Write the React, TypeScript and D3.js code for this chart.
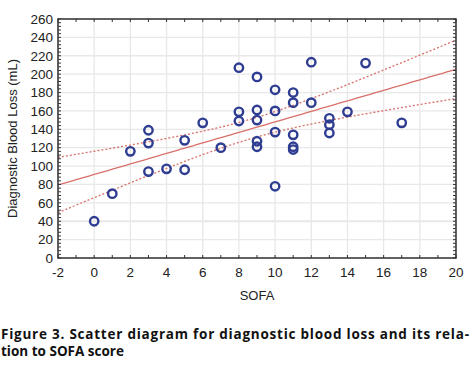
import React from "react";
import * as d3 from "d3";

const sofa = [0, 1, 2, 3, 3, 3, 4, 5, 5, 6, 7, 8, 8, 8, 9, 9, 9, 9, 9, 10, 10, 10, 10, 11, 11, 11, 11, 11, 12, 12, 13, 13, 13, 14, 15, 17];
const bloodLoss = [40, 70, 116, 94, 125, 139, 97, 96, 128, 147, 120, 207, 159, 149, 197, 161, 150, 127, 121, 183, 160, 137, 78, 180, 169, 134, 121, 118, 213, 169, 152, 145, 136, 159, 212, 147];
const xTicks = [-2, 0, 2, 4, 6, 8, 10, 12, 14, 16, 18, 20];
const yTicks = [0, 20, 40, 60, 80, 100, 120, 140, 160, 180, 200, 220, 240, 260];
const xLabel = "SOFA";
const yLabel = "Diagnostic Blood Loss (mL)";
const captionLines = ["Figure 3. Scatter diagram for diagnostic blood loss and its rela-", "tion to SOFA score"];

export default function App() {
  const W = 472, H = 381;
  const L = 58, R = 456, T = 19, B = 258;
  const x = d3.scaleLinear().domain([-2, 20]).range([L, R]);
  const y = d3.scaleLinear().domain([0, 260]).range([B, T]);

  // least squares fit and 95% confidence band
  const n = sofa.length;
  const mx = d3.mean(sofa)!;
  const my = d3.mean(bloodLoss)!;
  let sxx = 0, sxy = 0;
  for (let i = 0; i < n; i++) {
    sxx += (sofa[i] - mx) ** 2;
    sxy += (sofa[i] - mx) * (bloodLoss[i] - my);
  }
  const slope = sxy / sxx;
  const icpt = my - slope * mx;
  let ssr = 0;
  for (let i = 0; i < n; i++) ssr += (bloodLoss[i] - (icpt + slope * sofa[i])) ** 2;
  const s = Math.sqrt(ssr / (n - 2));
  const t = 2.032;
  const xs = d3.range(-2, 20.001, 0.25);
  const fit = (v: number) => icpt + slope * v;
  const hw = (v: number) => t * s * Math.sqrt(1 / n + (v - mx) ** 2 / sxx);
  const line = d3.line<number[]>().x((d) => x(d[0])).y((d) => y(d[1]));
  const clipY = (v: number) => Math.max(0, Math.min(260, v));

  const fitPath = line(xs.map((v) => [v, fit(v)]));
  const upPath = line(xs.map((v) => [v, clipY(fit(v) + hw(v))]));
  const loPath = line(xs.map((v) => [v, clipY(fit(v) - hw(v))]));

  const xMinor = d3.range(-2, 20.001, 1);
  const yMinor = d3.range(0, 260.001, 4);
  const font = "'Liberation Sans', Arial, sans-serif";
  const red = "#d8706a";
  const blue = "#2e3d92";
  const axisCol = "#333";

  return (
    <svg width={W} height={H} style={{ position: "absolute", left: 0, top: 0, background: "#fff" }}>
      {/* grid */}
      {xTicks.map((v) => (
        <line key={"gx" + v} x1={x(v)} x2={x(v)} y1={T} y2={B} stroke="#e8e8e8" strokeWidth={1.3} />
      ))}
      {yTicks.map((v) => (
        <line key={"gy" + v} x1={L} x2={R} y1={y(v)} y2={y(v)} stroke="#e8e8e8" strokeWidth={v === 40 ? 2.2 : 1.3} />
      ))}
      {/* fit lines */}
      <path d={upPath!} fill="none" stroke={red} strokeWidth={1.3} strokeDasharray="2,2" />
      <path d={loPath!} fill="none" stroke={red} strokeWidth={1.3} strokeDasharray="2,2" />
      <path d={fitPath!} fill="none" stroke={red} strokeWidth={1.3} />
      {/* points */}
      {sofa.map((v, i) => (
        <circle key={"p" + i} cx={x(v)} cy={y(bloodLoss[i])} r={4.2} fill="none" stroke={blue} strokeWidth={2.4} />
      ))}
      {/* minor ticks */}
      {xMinor.map((v) => (
        <g key={"mx" + v}>
          <line x1={x(v)} x2={x(v)} y1={B} y2={B - 3} stroke={axisCol} strokeWidth={1} />
          <line x1={x(v)} x2={x(v)} y1={T} y2={T + 3} stroke={axisCol} strokeWidth={1} />
        </g>
      ))}
      {yMinor.map((v) => (
        <g key={"my" + v}>
          <line x1={L} x2={L + 3} y1={y(v)} y2={y(v)} stroke={axisCol} strokeWidth={1} />
          <line x1={R} x2={R - 3} y1={y(v)} y2={y(v)} stroke={axisCol} strokeWidth={1} />
        </g>
      ))}
      {/* frame */}
      <rect x={L} y={T} width={R - L} height={B - T} fill="none" stroke={axisCol} strokeWidth={1.5} />
      {/* tick labels */}
      {xTicks.map((v) => (
        <text key={"xl" + v} x={x(v)} y={277} textAnchor="middle" fontFamily={font} fontSize={13.5} fill="#222">
          {v}
        </text>
      ))}
      {yTicks.map((v) => (
        <text key={"yl" + v} x={53} y={y(v) + 4.8} textAnchor="end" fontFamily={font} fontSize={13.5} fill="#222">
          {v}
        </text>
      ))}
      <text x={257} y={300} textAnchor="middle" fontFamily={font} fontSize={13} fill="#222">
        {xLabel}
      </text>
      <text transform={`translate(17,${(T + B) / 2}) rotate(-90)`} textAnchor="middle" fontFamily={font} fontSize={13} fill="#222">
        {yLabel}
      </text>
      {/* caption */}
      <text x={1} y={339} fontFamily="'Open Sans', 'Noto Sans', sans-serif" fontWeight="bold" fontSize={13.5} fill="#111" textLength={468} lengthAdjust="spacing">
        {captionLines[0]}
      </text>
      <text x={1} y={356} fontFamily="'Open Sans', 'Noto Sans', sans-serif" fontWeight="bold" fontSize={13.5} fill="#111">
        {captionLines[1]}
      </text>
    </svg>
  );
}
